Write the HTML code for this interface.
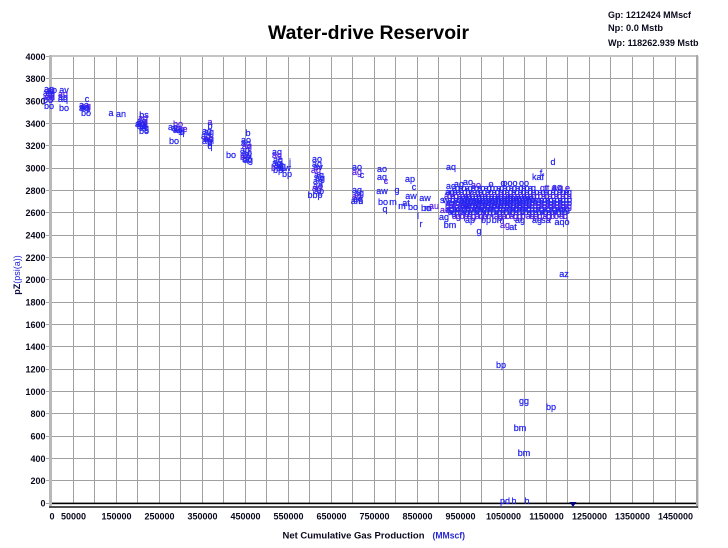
<!DOCTYPE html>
<html><head><meta charset="utf-8"><style>
html,body{margin:0;padding:0;background:#fff;}
svg{display:block;}
.t{font-family:"Liberation Sans",Arial,sans-serif;font-weight:bold;font-size:9px;fill:#0a0a1e;}
.d text{font-family:"Liberation Sans",Arial,sans-serif;font-size:9px;fill:#2424f0;stroke:#2424f0;stroke-width:0.25;text-anchor:middle;}
.d text.p{fill:#5a22e6;stroke:#5a22e6;}
.r text{font-family:"Liberation Sans",Arial,sans-serif;font-size:9px;fill:#2626f0;stroke:#2626f0;stroke-width:0.3;}
.r text.p{fill:#4a24e8;stroke:#4a24e8;}
</style></head><body>
<svg width="728" height="548" viewBox="0 0 728 548" xmlns="http://www.w3.org/2000/svg">
<rect width="728" height="548" fill="#fff"/>
<!-- title -->
<text x="268" y="39" font-family="Liberation Sans, Arial, sans-serif" font-weight="bold" font-size="19" fill="#000" textLength="201" lengthAdjust="spacingAndGlyphs">Water-drive Reservoir</text>
<text class="t" x="608" y="18" textLength="83" lengthAdjust="spacingAndGlyphs">Gp: 1212424 MMscf</text>
<text class="t" x="608" y="31" textLength="55" lengthAdjust="spacingAndGlyphs">Np: 0.0 Mstb</text>
<text class="t" x="608" y="46" textLength="90.5" lengthAdjust="spacingAndGlyphs">Wp: 118262.939 Mstb</text>

<!-- grid -->
<g stroke="#a0a0a0" stroke-width="1" fill="none">
<path d="M73.5 56V503M94.5 56V503M116.5 56V503M137.5 56V503M159.5 56V503M180.5 56V503M202.5 56V503M223.5 56V503M245.5 56V503M266.5 56V503M288.5 56V503M309.5 56V503M331.5 56V503M352.5 56V503M374.5 56V503M395.5 56V503M417.5 56V503M438.5 56V503M460.5 56V503M481.5 56V503M503.5 56V503M524.5 56V503M546.5 56V503M567.5 56V503M589.5 56V503M610.5 56V503M632.5 56V503M653.5 56V503M675.5 56V503"/>
<path d="M52 480.5H696M52 458.5H696M52 436.5H696M52 413.5H696M52 391.5H696M52 369.5H696M52 346.5H696M52 324.5H696M52 302.5H696M52 279.5H696M52 257.5H696M52 235.5H696M52 212.5H696M52 190.5H696M52 168.5H696M52 145.5H696M52 123.5H696M52 101.5H696M52 78.5H696"/>
<path d="M46 503.5H49M46 480.5H49M46 458.5H49M46 436.5H49M46 413.5H49M46 391.5H49M46 369.5H49M46 346.5H49M46 324.5H49M46 302.5H49M46 279.5H49M46 257.5H49M46 235.5H49M46 212.5H49M46 190.5H49M46 168.5H49M46 145.5H49M46 123.5H49M46 101.5H49M46 78.5H49M46 56.5H49"/>
</g>
<!-- frame -->
<rect x="50" y="55" width="648" height="2" fill="#c4c4c4"/>
<rect x="49" y="55" width="3" height="453" fill="#b8b8b8"/>
<rect x="696" y="55" width="2" height="453" fill="#a8a8a8"/>
<rect x="698" y="56" width="1" height="453" fill="#dcdcdc"/>
<rect x="52" y="502.6" width="644" height="1.6" fill="#000"/>
<rect x="49" y="506" width="649" height="2" fill="#505050"/>

<!-- y tick labels -->
<g class="t" text-anchor="end">
<text x="45.5" y="506.5">0</text>
<text x="45.5" y="484.2">200</text>
<text x="45.5" y="461.8">400</text>
<text x="45.5" y="439.5">600</text>
<text x="45.5" y="417.2">800</text>
<text x="45.5" y="394.9">1000</text>
<text x="45.5" y="372.5">1200</text>
<text x="45.5" y="350.2">1400</text>
<text x="45.5" y="327.9">1600</text>
<text x="45.5" y="305.5">1800</text>
<text x="45.5" y="283.2">2000</text>
<text x="45.5" y="260.9">2200</text>
<text x="45.5" y="238.5">2400</text>
<text x="45.5" y="216.2">2600</text>
<text x="45.5" y="193.9">2800</text>
<text x="45.5" y="171.6">3000</text>
<text x="45.5" y="149.2">3200</text>
<text x="45.5" y="126.9">3400</text>
<text x="45.5" y="104.6">3600</text>
<text x="45.5" y="82.2">3800</text>
<text x="45.5" y="59.9">4000</text>
</g>
<!-- x tick labels -->
<g class="t" text-anchor="middle">
<text x="52" y="519.5">0</text>
<text x="73.5" y="519.5">50000</text>
<text x="116.5" y="519.5">150000</text>
<text x="159.5" y="519.5">250000</text>
<text x="202.5" y="519.5">350000</text>
<text x="245.5" y="519.5">450000</text>
<text x="288.5" y="519.5">550000</text>
<text x="331.5" y="519.5">650000</text>
<text x="374.5" y="519.5">750000</text>
<text x="417.5" y="519.5">850000</text>
<text x="460.5" y="519.5">950000</text>
<text x="503.5" y="519.5">1050000</text>
<text x="546.5" y="519.5">1150000</text>
<text x="589.5" y="519.5">1250000</text>
<text x="632.5" y="519.5">1350000</text>
<text x="675.5" y="519.5">1450000</text>
</g>
<!-- axis titles -->
<text class="t" x="282.5" y="538.5" textLength="142" lengthAdjust="spacingAndGlyphs">Net Cumulative Gas Production</text>
<text class="t" x="432.5" y="538.5" style="fill:#2828d0" textLength="32.5" lengthAdjust="spacingAndGlyphs">(MMscf)</text>
<text transform="translate(20,275) rotate(-90)" text-anchor="middle" font-family="Liberation Sans, Arial, sans-serif" font-size="9"><tspan font-weight="bold" fill="#0a0a40">pZ</tspan><tspan fill="#2222d8">(psi(a))</tspan></text>

<!-- data labels -->
<g class="d">
<text x="49" y="92">ag</text><text x="50" y="94" class="p">ag</text><text x="48" y="96">ag</text><text x="50" y="98">aq</text><text x="49" y="100" class="p">ag</text><text x="48" y="103">bo</text><text x="49" y="109">bo</text><text x="52" y="93">ao</text>
<text x="64" y="93">av</text><text x="63" y="97" class="p">aq</text><text x="63" y="100">ag</text><text x="63" y="102">aq</text><text x="64" y="111">bo</text>
<text x="87" y="102">c</text><text x="84" y="108">aa</text><text x="86" y="109" class="p">ag</text><text x="85" y="110">aa</text><text x="84" y="111">aq</text><text x="86" y="116">bo</text>
<text x="111" y="116">a</text><text x="121" y="117">an</text>
<text x="144" y="118">bs</text><text x="143" y="121" class="p">ag</text><text x="142" y="124">ag</text><text x="141" y="126">ag</text><text x="143" y="127" class="p">ag</text><text x="142" y="129">aq</text><text x="140" y="127">ag</text><text x="144" y="131">ag</text><text x="144" y="134">bo</text>
<text x="178" y="127" class="p">bo</text><text x="173" y="130">ag</text><text x="176" y="131">ag</text><text x="180" y="132" class="p">aq</text><text x="178" y="133">ag</text><text x="185" y="132" class="p">e</text><text x="182" y="135">q</text><text x="174" y="144">bo</text>
<text x="210" y="125" class="p">a</text><text x="210" y="129">b</text><text x="207" y="134">ag</text><text x="209" y="135">ag</text><text x="206" y="139">ag</text><text x="208" y="141" class="p">ag</text><text x="209" y="142">aq</text><text x="207" y="144">ag</text><text x="210" y="146">q</text><text x="210" y="149">q</text>
<text x="231" y="158">bo</text>
<text x="248" y="136">b</text><text x="246" y="143">ao</text><text x="246" y="146">ag</text><text x="247" y="149" class="p">ag</text><text x="245" y="153">ag</text><text x="247" y="156">ag</text><text x="246" y="158">aw</text><text x="245" y="160" class="p">bo</text><text x="247" y="162">bp</text><text x="248" y="163">ag</text>
<text x="277" y="155">ag</text><text x="277" y="158" class="p">ag</text><text x="278" y="163">ag</text><text x="277" y="166">ag</text><text x="279" y="168">ag</text><text x="276" y="171" class="p">bb</text><text x="278" y="173">bp</text><text x="290" y="165">j</text><text x="285" y="171">aw</text><text x="287" y="177">bp</text><text x="281" y="169">ag</text>
<text x="317" y="162">ao</text><text x="317" y="167">ag</text><text x="318" y="170">av</text><text x="316" y="173" class="p">ag</text><text x="319" y="178">ag</text><text x="320" y="181">ag</text><text x="318" y="184">ag</text><text x="318" y="189">ao</text><text x="317" y="191" class="p">ag</text><text x="319" y="194">ap</text><text x="315" y="198">bbp</text><text x="321" y="180">j</text>
<text x="357" y="170">ao</text><text x="357" y="175" class="p">ag</text><text x="362" y="178">c</text><text x="357" y="193">ag</text><text x="359" y="196">ag</text><text x="357" y="199" class="p">ag</text><text x="358" y="202">ag</text><text x="357" y="204">am</text><text x="360" y="197">j</text>
<text x="382" y="172">ao</text><text x="382" y="180">aq</text><text x="386" y="184" class="p">c</text><text x="382" y="194">aw</text><text x="383" y="205">bo</text><text x="385" y="212">q</text><text x="393" y="205">m</text><text x="397" y="193">g</text>
<text x="410" y="182">ap</text><text x="414" y="190">c</text><text x="411" y="199">aw</text><text x="406" y="206">at</text><text x="402" y="209">m</text><text x="413" y="210">bo</text><text x="418" y="219">l</text><text x="421" y="227">r</text><text x="425" y="201">aw</text><text x="426" y="211">bo</text><text x="428" y="211">m</text><text x="434" y="209" class="p">au</text>
<text x="451" y="170">aq</text><text x="553" y="165">d</text><text x="451" y="189">ao</text><text x="450" y="195">ag</text><text x="450" y="228">bm</text><text x="479" y="234">g</text><text x="513" y="230">at</text><text x="498" y="223">bm</text><text x="537" y="223">ag</text><text x="562" y="225">aqo</text><text x="538" y="180">kaf</text><text x="541" y="176">f</text><text x="557" y="190">aq</text><text x="567" y="195">e</text><text x="524" y="186">oo</text><text x="468" y="185">ao</text><text x="459" y="187">ag</text><text x="476" y="188" class="p">ao</text><text x="491" y="187">o</text><text x="503" y="186">o</text><text x="510" y="186">ooo</text><text x="546" y="191">t</text><text x="470" y="223">ap</text><text x="486" y="223">bp</text><text x="520" y="223">ag</text><text x="546" y="223">sa</text><text x="505" y="228" class="p">ag</text><text x="445" y="213" class="p">ae</text><text x="444" y="220">ag</text>
<text x="564" y="277">az</text>
<text x="501" y="368">bp</text><text x="524" y="404">gg</text><text x="551" y="410">bp</text><text x="520" y="431">bm</text><text x="524" y="456">bm</text>
<text x="505" y="504">pd</text><text x="514" y="504">h</text><text x="527" y="504">h</text>
</g>
<g class="r">
<text x="452" y="191" textLength="84" lengthAdjust="spacing">agaoagaqaoagboagaoagaqaoag</text>
<text x="540" y="191" textLength="30" lengthAdjust="spacing" class="p">qtaqe</text>
<text x="446" y="195" textLength="126" lengthAdjust="spacing">agaoagbpagaqaoagbpagaoagaqbpagaoagaqag</text>
<text x="444" y="199" textLength="128" lengthAdjust="spacing" class="p">aqagaoagbpagaqaoagbpagaoagaqbpagaoagaqa</text>
<text x="440" y="203" textLength="132" lengthAdjust="spacing">swagaoagbpagaqaoagbpagaoagaqbpagaoagaqagbo</text>
<text x="446" y="206" textLength="126" lengthAdjust="spacing">agaoagbpagaqaoagbpagaoagaqbpagaoagaqagbo</text>
<text x="445" y="209" textLength="127" lengthAdjust="spacing" class="p">bpagaoagbpagaqaoagbpagaoagaqbpagaoagaqag</text>
<text x="446" y="212" textLength="124" lengthAdjust="spacing">agaoagbpagaqaoagbpagaoagaqbpagaoagaqag</text>
<text x="448" y="215" textLength="120" lengthAdjust="spacing">agbpagaqaoagbpagaoagaqbpagaoagaqagbo</text>
<text x="452" y="219" textLength="116" lengthAdjust="spacing" class="p">agbpagaqbm agaoagbp aqag agbo aq</text>
<text x="458" y="201" textLength="76" lengthAdjust="spacing">agaoagbpagaqaoagbpagaoag</text>
<text x="460" y="208" textLength="72" lengthAdjust="spacing">agaoagbpagaqaoagbpagao</text>
</g>
<polygon points="569.5,502 576.5,502 573,507" fill="#000080"/>
</svg>
</body></html>
